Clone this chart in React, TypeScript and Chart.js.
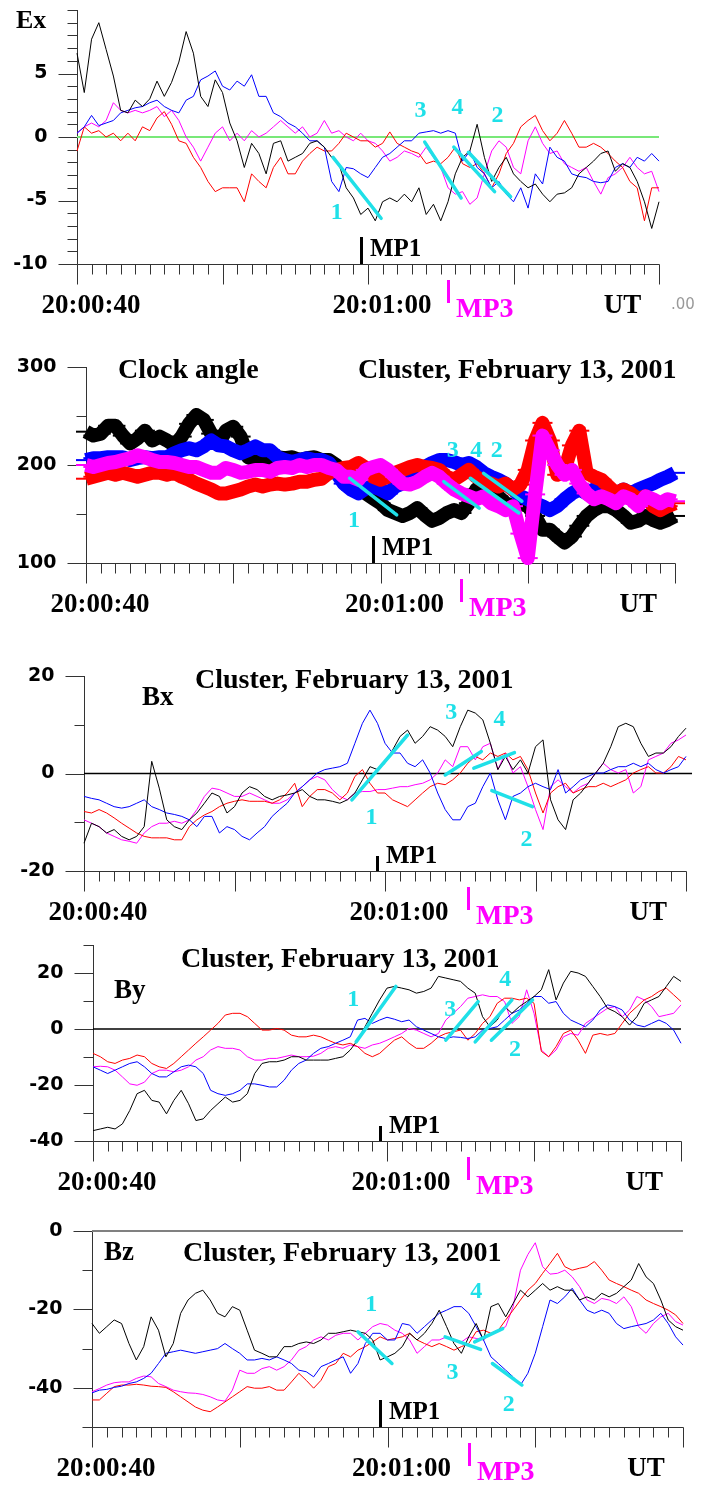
import { useEffect, useRef } from 'react';
import { Chart, registerables } from 'chart.js';

Chart.register(...registerables);

// ---- time grid (seconds after 20:00:40, 0.5 s samples) ----
const T: number[] = Array.from({ length: 81 }, (_, i) => i / 2);
const TIME_TICKS: number[] = Array.from({ length: 41 }, (_, i) => i);
const TIME_LABELS = ['20:00:40', '20:01:00'];
const TIME_LABEL_AT = [0, 20];
const UT_AT = 37.5;
const MP1_AT = 19.5;
const MP3_AT = 25.5;

// ---- Ex ----
const EX_BLACK = [
  6.6, 3.5, 7.7, 9.0, 6.9, 4.8, 2.1, 1.9, 2.9, 2.4,
  3.0, 4.4, 3.2, 4.3, 5.9, 8.3, 6.6, 3.2, 2.4, 4.5,
  3.5, 1.1, -0.3, -2.4, -0.5, -1.3, -2.9, -0.5, -0.3, -1.9,
  -1.6, -1.3, -0.5, -0.3, -0.8, -1.6, -2.1, -4.0, -4.8, -6.1,
  -5.6, -6.6, -5.1, -4.8, -5.1, -4.5, -5.1, -4.0, -6.1, -5.3,
  -6.6, -5.1, -2.9, -1.6, -1.1, 1.0, -1.6, -3.5, -2.4, -1.6,
  -2.9, -3.5, -4.0, -3.7, -4.5, -5.1, -4.5, -4.4, -4.0, -2.9,
  -2.4, -1.9, -1.3, -1.1, -2.7, -2.1, -2.4, -3.5, -5.1, -7.2, -5.1,
];
const EX_BLUE = [
  0.3, 0.8, 1.7, 0.9, 1.1, 1.3, 1.9, 2.1, 2.3, 2.4,
  2.7, 2.9, 2.4, 2.1, 1.9, 2.9, 3.2, 4.5, 4.8, 5.2,
  4.0, 3.7, 4.4, 4.0, 4.9, 3.2, 3.2, 1.9, 1.6, 1.1,
  0.8, 0.3, -0.3, -0.3, -0.8, -3.5, -4.3, -2.4, -2.5, -2.9,
  -3.2, -2.4, -1.6, -1.3, -0.8, -0.3, -0.3, 0.3, 0.4, 0.5,
  0.3, 0.5, 0.3, -1.9, -1.1, -2.4, -2.9, -4.0, -3.5, -4.5,
  -5.1, -4.0, -5.6, -2.9, -3.7, -0.8, -1.6, -1.9, -2.9, -3.1,
  -3.2, -3.5, -3.6, -3.5, -2.4, -2.1, -2.4, -1.6, -1.9, -1.3, -1.9,
];
const EX_RED = [
  -1.1, 0.8, 0.3, 0.5, 0.0, 0.3, -0.3, 0.3, -0.3, 0.8,
  0.5, 1.5, 2.0, 1.0, -0.3, -0.5, -1.6, -2.4, -3.5, -4.3,
  -4.0, -4.0, -4.0, -5.1, -2.9, -3.5, -4.0, -2.4, -1.6, -2.9,
  -2.9, -1.9, -1.3, -0.8, -1.1, -1.1, -0.5, 0.3, 0.0, -0.3,
  -0.3, -0.8, -0.5, 0.4, -0.5, -0.8, -1.1, -1.3, -2.1, -1.9,
  -2.1, -1.6, -0.8, -2.1, -2.4, -2.1, -2.9, -4.0, -2.9, -1.3,
  -0.5, 0.8, 1.3, 1.7, 0.5, -0.3, 0.3, 1.3, 0.3, -0.8,
  -0.8, -0.5, -0.8, -1.3, -1.9, -2.4, -3.5, -4.0, -6.6, -4.0, -4.0,
];
const EX_MAGENTA = [
  0.3, 0.8, 1.1, 0.8, 1.3, 2.7, 2.1, 1.9, 2.1, 1.9,
  2.1, 2.4, 1.6, 2.1, 1.3, 0.0, -0.8, -1.9, -0.8, 0.3,
  0.8, -0.3, 0.3, -0.3, 0.5, 0.0, 0.3, 0.8, 1.3, 0.8,
  0.3, 0.8, 0.0, 0.3, 1.3, 0.3, 0.5, 0.0, -0.3, 0.3,
  -0.3, -0.5, -1.1, -1.9, -1.6, -1.1, -1.3, -1.6, -0.8, -1.6,
  -2.4, -4.0, -4.5, -4.3, -5.3, -4.8, -2.9, -1.1, -0.3, -0.8,
  -2.4, -2.9, -0.3, 0.8, -0.5, -1.3, -1.1, -2.1, -2.4, -2.7,
  -2.4, -3.5, -4.5, -3.2, -2.9, -2.4, -1.6, -2.4, -2.9, -2.7, -4.3,
];
const EX_Y_LABELS = [-10, -5, 0, 5];
const EX_CYAN = [[17.6, -1.6, 20.9, -6.4], [23.9, -0.4, 26.4, -4.8], [25.9, -0.8, 28.7, -4.3], [26.9, -1.2, 29.8, -4.7]];
const EX_CYAN_LABELS: [string, number, number][] = [['1', 17.85, -6.0], ['3', 23.6, 2.1], ['4', 26.15, 2.3], ['2', 28.9, 1.7]];

// ---- Clock angle ----
const CLK_BLACK = [
  234, 230, 232, 240, 240, 230, 222, 227, 235, 225,
  229, 225, 220, 229, 242, 251, 246, 232, 222, 235,
  239, 229, 208, 205, 208, 207, 208, 207, 208, 205,
  207, 208, 205, 205, 200, 193, 186, 178, 171, 166,
  161, 154, 151, 148, 151, 156, 149, 143, 146, 151,
  154, 151, 161, 175, 181, 175, 168, 161, 158, 161,
  158, 148, 134, 134, 127, 121, 127, 138, 148, 154,
  158, 158, 154, 148, 141, 143, 148, 144, 141, 144, 148,
];
const CLK_BLUE = [
  205, 207, 207, 208, 208, 208, 205, 207, 208, 207,
  208, 208, 212, 215, 217, 215, 219, 225, 220, 219,
  215, 212, 215, 219, 215, 215, 208, 205, 203, 205,
  207, 205, 205, 202, 192, 181, 175, 171, 176, 178,
  175, 171, 178, 181, 188, 192, 198, 202, 205, 205,
  203, 200, 202, 198, 192, 188, 185, 181, 175, 168,
  165, 161, 158, 154, 158, 165, 171, 175, 171, 175,
  181, 175, 171, 175, 171, 175, 178, 181, 185, 188, 192,
];
const CLK_RED = [
  186, 188, 190, 192, 190, 192, 190, 188, 190, 192,
  192, 190, 192, 188, 185, 181, 178, 175, 171, 171,
  173, 175, 178, 180, 178, 180, 181, 180, 181, 183,
  183, 185, 186, 192, 195, 197, 198, 202, 197, 188,
  185, 188, 192, 195, 198, 200, 198, 197, 195, 188,
  185, 190, 195, 188, 183, 181, 178, 181, 175, 180,
  195, 225, 243, 225, 190, 195, 220, 235, 192, 188,
  185, 178, 171, 175, 171, 165, 168, 158, 154, 158, 161,
];
const CLK_MAGENTA = [
  200, 198, 200, 202, 203, 205, 207, 210, 208, 205,
  203, 203, 202, 200, 198, 198, 195, 192, 192, 197,
  195, 192, 193, 195, 195, 193, 197, 198, 197, 200,
  198, 200, 200, 197, 195, 188, 188, 185, 195, 198,
  200, 195, 188, 181, 180, 183, 188, 192, 188, 181,
  175, 171, 168, 165, 168, 161, 158, 154, 158, 130,
  105, 170, 230, 215, 200, 190, 195, 181, 171, 165,
  168, 165, 161, 168, 165, 158, 168, 165, 161, 165, 163,
];
const CLK_Y_LABELS = [100, 200, 300];
const CLK_CYAN = [[17.9, 186.5, 21.1, 149], [24.3, 183, 26.7, 156], [26.1, 186.5, 29.4, 151], [27.0, 191.5, 29.6, 163]];
const CLK_CYAN_LABELS: [string, number, number][] = [['1', 18.2, 142.6], ['3', 24.9, 215], ['4', 26.5, 215], ['2', 27.9, 215]];

// ---- Bx ----
const BX_BLACK = [
  -14.3, -10.2, -10.9, -12.2, -11.5, -12.9, -13.6, -12.9, -10.9, 2.5,
  -3.0, -9.5, -10.9, -11.5, -9.5, -8.1, -6.1, -4.0, -4.7, -8.1,
  -6.8, -4.0, -2.7, -3.3, -4.7, -5.4, -4.7, -4.4, -4.0, -3.3,
  -4.7, -5.4, -5.4, -5.7, -6.1, -5.4, -4.0, -1.3, 1.4, 0.8,
  2.1, 4.8, 7.6, 8.9, 6.2, 7.6, 9.6, 8.9, 7.6, 5.5,
  9.6, 13.0, 12.4, 11.0, 6.2, 0.8, 3.5, 0.8, 2.8, 0.1,
  5.5, 6.9, -5.4, -9.5, -11.5, -5.4, -4.0, -2.0, 0.1, 2.1,
  5.5, 9.6, 10.3, 9.6, 6.2, 3.5, 4.2, 4.2, 5.5, 7.6, 9.3,
];
const BX_BLUE = [
  -4.7, -5.1, -5.4, -6.1, -6.8, -7.1, -6.8, -6.1, -5.4, -6.8,
  -7.4, -8.1, -8.4, -8.8, -9.5, -10.9, -8.8, -8.8, -12.2, -10.9,
  -11.5, -12.9, -13.6, -12.2, -10.9, -8.8, -7.4, -6.1, -4.0, -2.7,
  -1.3, 0.1, 0.8, 1.1, 1.4, 2.1, 6.2, 10.3, 13.0, 10.3,
  6.2, 4.2, 4.2, 2.1, 1.4, 2.8, 0.1, -4.0, -7.4, -9.5,
  -9.5, -6.8, -6.1, -2.7, 0.1, -5.4, -9.5, -4.7, -4.0, -2.7,
  -2.0, -2.7, -3.3, 0.8, -4.0, -2.7, -1.3, -0.6, 0.1, 0.1,
  0.8, 1.4, 1.4, 2.1, 1.4, 2.1, 0.8, 0.1, 0.8, 1.4, 3.5,
];
const BX_RED = [
  -7.8, -8.1, -7.4, -8.1, -9.1, -10.2, -11.2, -12.2, -12.9, -13.2,
  -13.2, -13.2, -13.6, -13.6, -10.9, -9.5, -8.5, -7.8, -6.8, -6.1,
  -5.7, -5.4, -5.7, -5.7, -5.7, -6.1, -5.4, -4.0, -2.0, -6.8,
  -4.7, -3.3, -3.3, -4.0, -5.4, -4.0, -0.6, 0.8, -2.0, -4.0,
  -4.0, -5.4, -6.1, -6.8, -5.4, -4.0, -2.7, -2.0, -2.3, -1.3,
  0.1, 2.1, 3.5, 2.8, 4.2, 3.5, 4.2, 2.8, 3.5, 0.8,
  -4.0, -8.1, -4.0, -2.7, -2.0, -4.0, -3.3, -2.7, -2.7, -2.0,
  -2.7, -2.0, -1.3, 0.1, 0.8, 1.4, 0.1, 0.1, 1.4, 3.5, 2.8,
];
const BX_MAGENTA = [
  -9.5, -10.2, -10.9, -12.2, -12.9, -13.6, -13.9, -14.3, -12.2, -10.9,
  -10.2, -10.2, -9.8, -10.2, -9.5, -7.4, -4.7, -3.0, -3.3, -4.0,
  -4.7, -4.7, -4.0, -4.7, -5.4, -6.1, -6.1, -5.4, -4.0, -2.7,
  -1.3, -0.6, -1.3, -3.3, -4.7, -5.4, -4.0, -3.7, -3.7, -3.3,
  -3.3, -3.0, -2.7, -2.7, -2.3, -2.0, -1.3, 0.1, 2.8, 1.4,
  5.5, 5.5, 2.8, 5.5, 6.2, 0.8, 4.2, 0.1, 1.4, -2.7,
  -7.4, -11.5, -2.7, -1.3, -2.7, -4.0, -2.7, -2.0, 0.1, 2.1,
  0.8, 0.1, 0.8, -4.0, -2.7, 2.8, 3.5, 4.2, 6.2, 6.9, 7.9,
];
const BX_Y_LABELS = [-20, 0, 20];
const BX_CYAN = [[17.8, -5.4, 21.5, 7.9], [24.0, -0.3, 26.4, 4.5], [25.9, 1.1, 28.6, 4.3], [27.1, -3.5, 29.8, -6.8]];
const BX_CYAN_LABELS: [string, number, number][] = [['1', 19.1, -9.1], ['3', 24.4, 12.4], ['4', 27.6, 11.0], ['2', 29.4, -13.6]];

// ---- By ----
const BY_BLACK = [
  -36.3, -35.7, -35.1, -35.7, -33.9, -29.1, -23.1, -21.9, -25.5, -26.1,
  -30.3, -25.5, -21.9, -26.7, -32.7, -32.1, -29.1, -26.7, -24.3, -26.1,
  -25.5, -23.1, -15.9, -12.3, -11.7, -11.7, -11.1, -9.9, -9.9, -11.1,
  -11.1, -11.1, -11.1, -10.5, -9.9, -7.5, -4.0, 0.8, 5.6, 10.4,
  14.6, 15.2, 14.6, 14.0, 12.8, 13.4, 14.6, 18.8, 18.2, 17.6,
  17.0, 14.6, 12.8, 4.4, 0.8, 3.2, 8.0, 5.6, 8.0, 9.8,
  11.6, 14.0, 21.2, 10.4, 16.4, 20.6, 20.0, 18.8, 15.2, 11.6,
  7.4, 6.2, 4.4, 1.4, 4.4, 9.2, 10.4, 11.6, 15.2, 18.8, 17.0,
];
const BY_BLUE = [
  -13.5, -14.7, -15.9, -14.7, -13.5, -12.3, -11.7, -13.5, -15.9, -17.1,
  -17.1, -15.3, -13.5, -12.9, -13.5, -15.9, -21.9, -23.1, -23.7, -23.1,
  -21.9, -19.6, -19.6, -20.1, -20.7, -20.7, -18.3, -14.7, -12.3, -11.1,
  -8.7, -6.9, -6.3, -5.1, -4.0, -2.8, 3.2, 3.8, 2.0, 3.2,
  4.2, 3.5, 2.6, 3.2, 0.8, -0.4, -1.6, -2.8, -3.4, -2.8,
  -3.0, -3.4, -2.8, -0.4, 0.2, 0.8, 3.2, 5.6, 6.8, 9.2,
  11.6, 11.6, 9.2, 9.8, 5.6, 3.2, 2.0, 0.8, 3.2, 6.8,
  8.6, 8.0, 6.8, 3.2, 1.4, 0.8, 2.0, 3.2, 2.0, -0.4, -5.1,
];
const BY_RED = [
  -8.7, -9.9, -11.7, -12.3, -11.1, -10.5, -9.3, -9.9, -12.3, -13.5,
  -14.1, -12.3, -9.9, -7.5, -5.1, -2.8, -0.4, 2.0, 5.0, 5.6,
  5.6, 4.4, 2.0, -0.4, -0.4, 0.2, -0.4, -2.2, -2.8, -2.8,
  -2.2, -2.8, -4.0, -5.1, -5.7, -5.1, -6.3, -8.7, -9.9, -8.7,
  -6.3, -4.0, -2.8, -5.1, -6.9, -6.9, -5.1, -2.8, -1.6, -1.0,
  -0.4, -4.0, -1.6, 2.0, 4.4, 9.2, 11.0, 11.0, 10.4, 11.0,
  9.2, -8.0, -9.9, -6.3, -1.6, -0.4, -4.0, -8.7, -2.2, -1.6,
  -2.2, -1.6, 2.0, 5.6, 8.0, 10.4, 11.6, 13.4, 14.6, 12.2, 9.8,
];
const BY_MAGENTA = [
  -13.5, -13.3, -13.5, -14.7, -17.1, -19.6, -20.1, -19.0, -15.9, -14.7,
  -14.7, -15.3, -14.7, -13.5, -11.1, -9.9, -7.5, -6.3, -6.9, -6.9,
  -7.5, -9.9, -11.1, -11.1, -10.5, -10.5, -9.9, -9.3, -9.9, -9.9,
  -9.7, -8.7, -6.9, -6.3, -6.9, -5.7, -6.3, -6.9, -5.7, -5.1,
  -4.0, -2.8, -1.6, 0.2, -0.4, -1.6, -2.8, -1.6, 3.2, 5.6,
  8.0, 11.0, 11.6, 12.2, 11.6, 11.6, 9.8, 2.0, 4.4, 14.0,
  5.6, -7.5, -9.9, -7.5, -2.8, -1.6, -2.2, 2.0, 3.8, 5.6,
  7.4, 8.0, 4.4, 6.8, 11.6, 10.4, 8.0, 4.4, 5.0, 5.6, 8.6,
];
const BY_Y_LABELS = [-40, -20, 0, 20];
const BY_CYAN = [[17.9, -4.6, 20.6, 15.2], [24.0, -4.0, 26.2, 9.8], [26.0, -4.6, 28.5, 10.4], [27.1, -4.0, 29.9, 10.4]];
const BY_CYAN_LABELS: [string, number, number][] = [['1', 17.7, 10.4], ['3', 24.3, 6.8], ['4', 28.05, 17.6], ['2', 28.7, -7.5]];

// ---- Bz ----
const BZ_BLACK = [
  -23.6, -26.1, -24.4, -22.7, -23.6, -28.7, -32.9, -29.5, -21.9, -25.3,
  -32.1, -28.7, -21.0, -17.6, -15.9, -15.1, -17.6, -21.0, -21.9, -19.3,
  -20.2, -25.3, -30.4, -31.2, -32.1, -32.1, -29.5, -29.5, -28.7, -28.3,
  -28.7, -27.8, -26.1, -26.1, -25.7, -25.3, -25.7, -26.1, -27.8, -32.9,
  -32.1, -31.2, -29.5, -26.1, -27.8, -26.1, -23.6, -20.2, -24.4, -28.7,
  -31.2, -27.0, -23.6, -27.8, -19.3, -18.5, -21.9, -18.5, -15.1, -16.8,
  -15.1, -13.4, -15.1, -14.2, -15.1, -15.1, -17.6, -16.8, -17.6, -15.9,
  -16.8, -15.9, -14.2, -12.5, -8.3, -11.7, -13.4, -17.6, -22.7, -24.4, -25.3,
];
const BZ_BLUE = [
  -41.3, -40.6, -40.4, -39.9, -39.6, -38.9, -38.5, -37.6, -36.3, -33.8,
  -31.2, -30.8, -30.4, -30.8, -31.2, -30.8, -30.4, -30.0, -28.7, -30.0,
  -31.2, -32.9, -32.9, -32.5, -32.9, -32.1, -32.9, -33.8, -35.5, -35.9,
  -37.2, -34.6, -33.8, -32.9, -32.1, -36.3, -33.8, -28.7, -26.1, -26.1,
  -27.8, -27.8, -23.6, -24.0, -26.1, -24.4, -22.7, -21.0, -20.2, -19.3,
  -19.3, -21.0, -24.4, -27.8, -32.1, -33.8, -35.5, -37.2, -39.3, -36.3,
  -31.2, -24.4, -17.6, -18.5, -16.8, -14.6, -17.6, -20.2, -21.0, -20.2,
  -21.0, -23.6, -24.9, -24.4, -24.0, -23.6, -22.7, -21.0, -23.6, -27.0, -29.1,
];
const BZ_RED = [
  -43.1, -43.1, -41.4, -39.7, -39.3, -39.3, -39.1, -39.3, -39.6, -39.7,
  -39.9, -41.0, -42.3, -43.6, -44.9, -45.7, -46.1, -44.9, -43.6, -42.3,
  -41.0, -39.7, -40.1, -40.1, -39.7, -40.6, -40.6, -38.5, -36.3, -38.1,
  -40.1, -38.1, -34.6, -33.8, -31.2, -32.1, -30.4, -29.5, -28.3, -27.0,
  -27.8, -27.4, -27.0, -26.1, -27.8, -28.7, -29.5, -28.7, -29.5, -30.4,
  -29.5, -28.7, -25.7, -25.3, -26.1, -25.3, -22.7, -20.2, -17.6, -15.1,
  -13.4, -10.8, -8.3, -5.7, -9.1, -10.0, -9.5, -9.1, -7.8, -10.0,
  -12.5, -13.4, -14.2, -15.1, -15.9, -17.6, -18.5, -19.3, -20.2, -21.4, -23.6,
];
const BZ_MAGENTA = [
  -41.0, -40.2, -39.3, -38.7, -38.5, -38.5, -37.6, -37.0, -37.2, -38.9,
  -39.7, -40.6, -41.0, -41.3, -41.4, -41.7, -42.3, -43.1, -43.4, -40.6,
  -35.5, -36.3, -36.3, -35.1, -34.6, -35.5, -34.6, -32.9, -30.4, -29.5,
  -27.8, -27.0, -27.8, -26.6, -26.1, -26.1, -27.8, -26.1, -24.4, -23.6,
  -24.0, -25.3, -26.1, -27.8, -31.2, -29.5, -27.8, -27.8, -27.0, -27.8,
  -28.3, -27.0, -27.4, -27.8, -26.1, -25.3, -24.4, -19.3, -10.0, -6.0,
  -3.0, -9.1, -11.0, -10.8, -10.0, -11.7, -14.2, -17.6, -18.5, -17.2,
  -17.6, -18.5, -16.8, -19.3, -24.4, -26.1, -23.6, -21.9, -21.0, -23.1, -24.0,
];
const BZ_Y_LABELS = [-40, -20, 0];
const BZ_CYAN = [[18.0, -25.7, 20.3, -33.8], [23.9, -27.0, 26.3, -30.2], [25.9, -28.3, 27.8, -24.9], [27.1, -33.8, 29.1, -39.3]];
const BZ_CYAN_LABELS: [string, number, number][] = [['1', 18.9, -18.9], ['3', 24.4, -36.3], ['4', 26.0, -15.5], ['2', 28.2, -44.4]];

// ---- styling ----
const BLACK = '#000000';
const RED = '#ff0000';
const BLUE = '#0000ff';
const MAGENTA = '#ff00ff';
const CYAN = '#1fe0e8';
const AXIS = '#333333';
const SERIF = '"Liberation Serif", "Times New Roman", serif';
const SANS = '"DejaVu Sans", Arial, sans-serif';
const TITLE = 'Cluster, February 13, 2001';

type Txt = { text: string; x: number; y: number; font: string; color?: string };

const PANELS: any[] = [
  {
    key: 'ex', top: 0, height: 330,
    plot: { left: 77, top: 10, right: 659, bottom: 264 },
    y: { min: -10, max: 10, step: 1, labels: EX_Y_LABELS },
    series: [[EX_BLACK, BLACK], [EX_BLUE, BLUE], [EX_RED, RED], [EX_MAGENTA, MAGENTA]],
    thick: false,
    ref: { y: 0, x2: 40, color: '#78e878', width: 2 },
    cyan: EX_CYAN, cyanLabels: EX_CYAN_LABELS, mp1Len: 27,
    texts: [
      { text: 'Ex', x: 16, y: 28, font: `bold 26px ${SERIF}` },
      { text: '.00', x: 671, y: 309, font: `15px ${SANS}`, color: '#999999' },
    ] as Txt[],
  },
  {
    key: 'clk', top: 330, height: 300,
    plot: { left: 86, top: 367, right: 675, bottom: 563 },
    y: { min: 100, max: 300, step: 50, labels: CLK_Y_LABELS },
    series: [[CLK_MAGENTA, MAGENTA], [CLK_RED, RED], [CLK_BLUE, BLUE], [CLK_BLACK, BLACK]],
    thick: true,
    ref: null,
    cyan: CLK_CYAN, cyanLabels: CLK_CYAN_LABELS, mp1Len: 27,
    texts: [
      { text: 'Clock angle', x: 118, y: 378, font: `bold 28px ${SERIF}` },
      { text: TITLE, x: 358, y: 378, font: `bold 28px ${SERIF}` },
    ] as Txt[],
  },
  {
    key: 'bx', top: 630, height: 300,
    plot: { left: 84, top: 676, right: 686, bottom: 871 },
    y: { min: -20, max: 20, step: 10, labels: BX_Y_LABELS },
    series: [[BX_BLACK, BLACK], [BX_BLUE, BLUE], [BX_RED, RED], [BX_MAGENTA, MAGENTA]],
    thick: false,
    ref: { y: 0, x2: 40.4, color: '#000000', width: 1.5 },
    cyan: BX_CYAN, cyanLabels: BX_CYAN_LABELS, mp1Len: 15,
    texts: [
      { text: TITLE, x: 195, y: 688, font: `bold 28px ${SERIF}` },
      { text: 'Bx', x: 142, y: 705, font: `bold 27px ${SERIF}` },
    ] as Txt[],
  },
  {
    key: 'by', top: 930, height: 270,
    plot: { left: 93, top: 945, right: 681, bottom: 1141 },
    y: { min: -40, max: 30, step: 10, labels: BY_Y_LABELS },
    series: [[BY_BLACK, BLACK], [BY_BLUE, BLUE], [BY_RED, RED], [BY_MAGENTA, MAGENTA]],
    thick: false,
    ref: { y: 0, x2: 40, color: '#000000', width: 1.5 },
    cyan: BY_CYAN, cyanLabels: BY_CYAN_LABELS, mp1Len: 15,
    texts: [
      { text: TITLE, x: 181, y: 967, font: `bold 28px ${SERIF}` },
      { text: 'By', x: 114, y: 998, font: `bold 27px ${SERIF}` },
    ] as Txt[],
  },
  {
    key: 'bz', top: 1200, height: 287,
    plot: { left: 92, top: 1231, right: 683, bottom: 1427 },
    y: { min: -50, max: 0, step: 10, labels: BZ_Y_LABELS },
    series: [[BZ_BLACK, BLACK], [BZ_BLUE, BLUE], [BZ_RED, RED], [BZ_MAGENTA, MAGENTA]],
    thick: false,
    ref: { y: 0, x2: 40, color: '#808080', width: 2 },
    cyan: BZ_CYAN, cyanLabels: BZ_CYAN_LABELS, mp1Len: 27,
    texts: [
      { text: TITLE, x: 183, y: 1261, font: `bold 28px ${SERIF}` },
      { text: 'Bz', x: 104, y: 1260, font: `bold 27px ${SERIF}` },
    ] as Txt[],
  },
];

function makeDecor(p: any) {
  return {
    id: 'decor_' + p.key,
    beforeDatasetsDraw(chart: any) {
      const ctx = chart.ctx;
      const a = chart.chartArea;
      const xs = chart.scales.x;
      const ys = chart.scales.y;
      const L = Math.round(a.left) + 0.5;
      const B = Math.round(a.bottom) + 0.5;
      ctx.save();
      ctx.strokeStyle = AXIS;
      ctx.lineWidth = 1;
      ctx.beginPath();
      ctx.moveTo(L, Math.round(a.top));
      ctx.lineTo(L, B);
      ctx.moveTo(L, B);
      ctx.lineTo(Math.round(a.right) + 0.5, B);
      for (const s of TIME_TICKS) {
        const x = Math.round(xs.getPixelForValue(s)) + 0.5;
        ctx.moveTo(x, B);
        ctx.lineTo(x, B + (s % 10 === 0 ? 20 : 10));
      }
      const n = Math.round((p.y.max - p.y.min) / p.y.step);
      for (let i = 0; i <= n; i++) {
        const v = p.y.min + i * p.y.step;
        const yy = Math.round(ys.getPixelForValue(v)) + 0.5;
        const major = p.y.labels.includes(v);
        ctx.moveTo(L - (major ? 19 : 10), yy);
        ctx.lineTo(L, yy);
      }
      ctx.stroke();
      ctx.fillStyle = '#000';
      ctx.font = `bold 19px ${SANS}`;
      ctx.textAlign = 'right';
      ctx.textBaseline = 'middle';
      for (const v of p.y.labels) ctx.fillText(String(v), L - 30, ys.getPixelForValue(v));
      ctx.font = `bold 27px ${SERIF}`;
      ctx.textAlign = 'center';
      ctx.textBaseline = 'alphabetic';
      TIME_LABELS.forEach((lab, i) => ctx.fillText(lab, xs.getPixelForValue(TIME_LABEL_AT[i]) + 14, B + 48));
      ctx.fillText('UT', xs.getPixelForValue(UT_AT), B + 48);
      ctx.restore();
    },
    afterDatasetsDraw(chart: any) {
      const ctx = chart.ctx;
      const a = chart.chartArea;
      const xs = chart.scales.x;
      const ys = chart.scales.y;
      const B = Math.round(a.bottom);
      ctx.save();
      // MP1 marker
      const x1 = Math.round(xs.getPixelForValue(MP1_AT));
      ctx.fillStyle = '#000';
      ctx.fillRect(x1 - 1, B - p.mp1Len, 3, p.mp1Len);
      ctx.font = `bold 25px ${SERIF}`;
      ctx.textAlign = 'left';
      ctx.textBaseline = 'alphabetic';
      ctx.fillText('MP1', x1 + 9, B - 8);
      // MP3 marker
      const x3 = Math.round(xs.getPixelForValue(MP3_AT));
      ctx.fillStyle = MAGENTA;
      ctx.fillRect(x3 - 1, B + 16, 3, 23);
      ctx.font = `bold 28px ${SERIF}`;
      ctx.fillText('MP3', x3 + 8, B + 53);
      // cyan numbers
      ctx.fillStyle = CYAN;
      ctx.font = `bold 24px ${SERIF}`;
      ctx.textAlign = 'center';
      ctx.textBaseline = 'middle';
      for (const [t, x, y] of p.cyanLabels) ctx.fillText(t, xs.getPixelForValue(x), ys.getPixelForValue(y));
      // titles
      ctx.textAlign = 'left';
      ctx.textBaseline = 'alphabetic';
      for (const tx of p.texts as Txt[]) {
        ctx.font = tx.font;
        ctx.fillStyle = tx.color || '#000';
        ctx.fillText(tx.text, tx.x, tx.y - p.top);
      }
      ctx.restore();
    },
  };
}

function Panel({ p }: { p: any }) {
  const ref = useRef<HTMLCanvasElement>(null);
  useEffect(() => {
    const datasets: any[] = [];
    for (const seg of p.cyan) {
      datasets.push({
        data: [{ x: seg[0], y: seg[1] }, { x: seg[2], y: seg[3] }],
        borderColor: CYAN, borderWidth: 3.5, pointRadius: 0, borderCapStyle: 'round', clip: false,
      });
    }
    for (const [vals, color] of p.series) {
      datasets.push({
        data: T.map((t, i) => ({ x: t, y: vals[i] })),
        borderColor: color,
        borderWidth: p.thick ? 14 : 1,
        borderJoinStyle: 'round',
        pointRadius: p.thick ? 10 : 0,
        pointStyle: 'line',
        pointBorderColor: color,
        pointBorderWidth: 2,
        clip: false,
      });
    }
    if (p.ref) {
      datasets.push({
        data: [{ x: 0, y: p.ref.y }, { x: p.ref.x2, y: p.ref.y }],
        borderColor: p.ref.color, borderWidth: p.ref.width, pointRadius: 0, clip: false,
      });
    }
    const chart = new Chart(ref.current as HTMLCanvasElement, {
      type: 'line',
      data: { datasets },
      options: {
        responsive: false,
        animation: false,
        devicePixelRatio: 1,
        events: [],
        layout: {
          padding: {
            left: p.plot.left,
            top: p.plot.top - p.top,
            right: 701 - p.plot.right,
            bottom: p.top + p.height - p.plot.bottom,
          },
        },
        elements: { line: { tension: 0 } },
        scales: {
          x: { type: 'linear', min: 0, max: 40, display: false },
          y: { type: 'linear', min: p.y.min, max: p.y.max, display: false },
        },
        plugins: { legend: { display: false }, tooltip: { enabled: false }, title: { display: false } },
      } as any,
      plugins: [makeDecor(p)],
    });
    return () => chart.destroy();
  }, [p]);
  return (
    <canvas
      ref={ref}
      width={701}
      height={p.height}
      style={{ position: 'absolute', left: 0, top: p.top, width: 701, height: p.height, display: 'block' }}
    />
  );
}

export default function App() {
  return (
    <div style={{ position: 'absolute', left: 0, top: 0, width: 701, height: 1487, background: '#ffffff', overflow: 'hidden' }}>
      {PANELS.map((p) => (
        <Panel key={p.key} p={p} />
      ))}
    </div>
  );
}
